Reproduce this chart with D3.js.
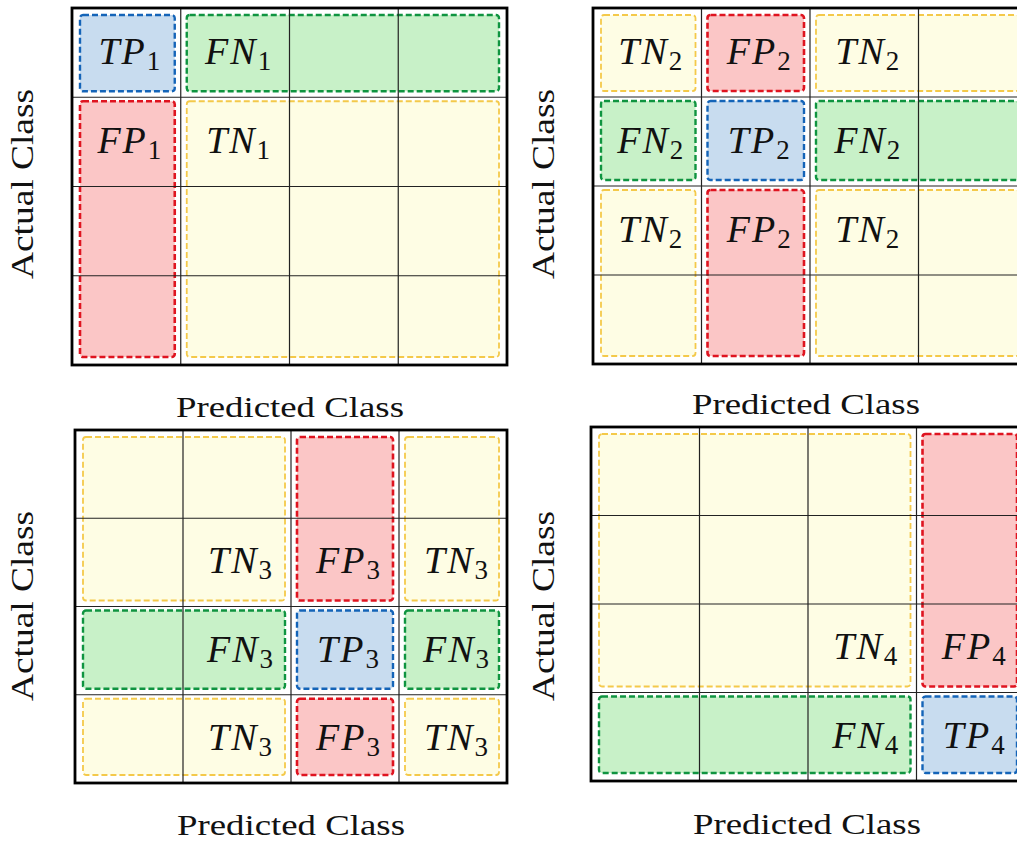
<!DOCTYPE html>
<html>
<head>
<meta charset="utf-8">
<script src="https://cdn.jsdelivr.net/npm/d3@7"></script>
<style>
  body { margin: 0; background: #fff; }
  svg { display: block; }
</style>
</head>
<body>
<svg id="chart" width="1017" height="843"></svg>
<script>
// 4x4 grid, one panel per class
const classes = [0, 1, 2, 3];

// regions: [rowStart, rowEnd, colStart, colEnd, kind]
const regions1 = [[0,0,0,0,'TP'],[0,0,1,3,'FN'],[1,3,0,0,'FP'],[1,3,1,3,'TN']];
const regions2 = [[1,1,1,1,'TP'],[1,1,0,0,'FN'],[1,1,2,3,'FN'],[0,0,1,1,'FP'],[2,3,1,1,'FP'],
                  [0,0,0,0,'TN'],[0,0,2,3,'TN'],[2,3,0,0,'TN'],[2,3,2,3,'TN']];
const regions3 = [[2,2,2,2,'TP'],[2,2,0,1,'FN'],[2,2,3,3,'FN'],[0,1,2,2,'FP'],[3,3,2,2,'FP'],
                  [0,1,0,1,'TN'],[0,1,3,3,'TN'],[3,3,0,1,'TN'],[3,3,3,3,'TN']];
const regions4 = [[3,3,3,3,'TP'],[3,3,0,2,'FN'],[0,2,3,3,'FP'],[0,2,0,2,'TN']];

// labels: [row, col, kind]
const labels1 = [[0,0,'TP'],[0,1,'FN'],[1,0,'FP'],[1,1,'TN']];
const labels2 = [[0,0,'TN'],[0,1,'FP'],[0,2,'TN'],[1,0,'FN'],[1,1,'TP'],[1,2,'FN'],[2,0,'TN'],[2,1,'FP'],[2,2,'TN']];
const labels3 = [[1,1,'TN'],[1,2,'FP'],[1,3,'TN'],[2,1,'FN'],[2,2,'TP'],[2,3,'FN'],[3,1,'TN'],[3,2,'FP'],[3,3,'TN']];
const labels4 = [[2,2,'TN'],[2,3,'FP'],[3,2,'FN'],[3,3,'TP']];

const xTitle = 'Predicted Class';
const yTitle = 'Actual Class';

const styles = {
  TP: {fill: '#c8dcef', stroke: '#1464b8', w: 2.4},
  FN: {fill: '#c8f1c8', stroke: '#0f9440', w: 2.4},
  FP: {fill: '#fbc6c6', stroke: '#df1420', w: 2.6},
  TN: {fill: '#fefde4', stroke: '#f4c94a', w: 1.8}
};

const panels = [
  {x0: 72,  x1: 507,  y0: 8,   y1: 365, regions: regions1, labels: labels1, sub: '1', tx: 290, ty: 417, ax: 33,  ay: 184},
  {x0: 593, x1: 1027, y0: 8,   y1: 364, regions: regions2, labels: labels2, sub: '2', tx: 806, ty: 414, ax: 554, ay: 184},
  {x0: 75,  x1: 507,  y0: 430, y1: 783, regions: regions3, labels: labels3, sub: '3', tx: 291, ty: 835, ax: 33,  ay: 606},
  {x0: 591, x1: 1025, y0: 427, y1: 781, regions: regions4, labels: labels4, sub: '4', tx: 807, ty: 834, ax: 554, ay: 606}
];

const svg = d3.select('#chart');
const serif = "'Liberation Serif'";

panels.forEach(p => {
  const x = d3.scaleBand().domain(classes).range([p.x0, p.x1]);
  const y = d3.scaleBand().domain(classes).range([p.y0, p.y1]);
  const g = svg.append('g');

  g.append('rect')
    .attr('x', p.x0).attr('y', p.y0)
    .attr('width', p.x1 - p.x0).attr('height', p.y1 - p.y0)
    .attr('fill', '#fff');

  // coloured dashed regions
  const pad = 6;
  g.selectAll('.region')
    .data(p.regions)
    .enter().append('rect')
    .attr('class', 'region')
    .attr('x', d => x(d[2]) + pad + (d[2] === 0 ? 2 : 0))
    .attr('y', d => y(d[0]) + (d[0] === 0 ? pad + 1 : 4))
    .attr('width', d => x(d[3]) + x.bandwidth() - x(d[2]) - 2 * pad - (d[2] === 0 ? 2 : 0) - (d[3] === 3 ? 2 : 0))
    .attr('height', d => y(d[1]) + y.bandwidth() - y(d[0]) - pad - (d[0] === 0 ? pad + 1 : 4) - (d[1] === 3 ? 2 : 0))
    .attr('rx', 3)
    .attr('fill', d => styles[d[4]].fill)
    .attr('stroke', d => styles[d[4]].stroke)
    .attr('stroke-width', d => styles[d[4]].w)
    .attr('stroke-dasharray', '6,3');

  // grid lines
  g.selectAll('.vline')
    .data(classes.slice(1))
    .enter().append('line')
    .attr('x1', d => x(d)).attr('x2', d => x(d))
    .attr('y1', p.y0).attr('y2', p.y1)
    .attr('stroke', '#222').attr('stroke-width', 1.2);
  g.selectAll('.hline')
    .data(classes.slice(1))
    .enter().append('line')
    .attr('y1', d => y(d)).attr('y2', d => y(d))
    .attr('x1', p.x0).attr('x2', p.x1)
    .attr('stroke', '#222').attr('stroke-width', 1.2);

  g.append('rect')
    .attr('x', p.x0).attr('y', p.y0)
    .attr('width', p.x1 - p.x0).attr('height', p.y1 - p.y0)
    .attr('fill', 'none').attr('stroke', '#000').attr('stroke-width', 2.8);

  // cell labels
  const t = g.selectAll('.lab')
    .data(p.labels)
    .enter().append('text')
    .attr('x', d => x(d[1]) + x.bandwidth() / 2 + 3)
    .attr('y', d => y(d[0]) + y.bandwidth() / 2 + 11)
    .attr('text-anchor', 'middle')
    .style('font-family', serif)
    .attr('font-size', 38)
    .attr('fill', '#111');
  t.append('tspan')
    .attr('font-style', 'italic')
    .attr('letter-spacing', 2)
    .text(d => d[2]);
  t.append('tspan')
    .attr('font-size', 27)
    .attr('dy', 6)
    .text(p.sub);

  // axis titles
  svg.append('text')
    .attr('x', p.tx).attr('y', p.ty)
    .attr('text-anchor', 'middle')
    .style('font-family', serif)
    .attr('font-size', 30)
    .attr('textLength', 228)
    .attr('lengthAdjust', 'spacingAndGlyphs')
    .attr('fill', '#111')
    .text(xTitle);
  svg.append('text')
    .attr('transform', `translate(${p.ax},${p.ay}) rotate(-90)`)
    .attr('text-anchor', 'middle')
    .style('font-family', serif)
    .attr('font-size', 31)
    .attr('textLength', 190)
    .attr('lengthAdjust', 'spacingAndGlyphs')
    .attr('fill', '#111')
    .text(yTitle);
});
</script>
</body>
</html>
